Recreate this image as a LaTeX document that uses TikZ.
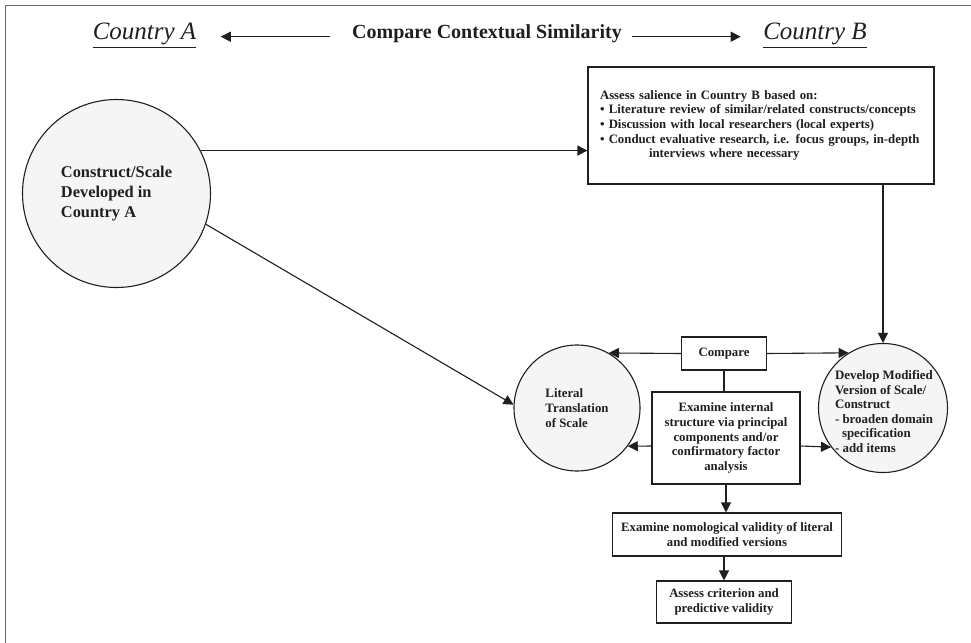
\documentclass[tikz,border=0pt]{standalone}
\usepackage{fontspec}
\setmainfont{Liberation Serif}
\usepackage{tikz}
\usetikzlibrary{arrows.meta}

\begin{document}
\begin{tikzpicture}[x=1pt,y=-1pt,color=black!88,line width=1.1pt,
     >={Triangle[length=10pt,width=10pt]},
     bx/.style={draw,fill=white,inner sep=0pt,align=center,
                font=\fontsize{12.8}{14.7}\selectfont\bfseries},
     cir/.style={circle,draw,fill=black!4,inner sep=0pt,align=left,
                font=\fontsize{12.8}{14.8}\selectfont\bfseries},
     ctry/.style={inner sep=0pt,anchor=base,font=\fontsize{25}{28}\selectfont\itshape},
     hd/.style={inner sep=0pt,anchor=base,font=\fontsize{20}{24}\selectfont\bfseries}]
     \useasboundingbox (0,0) rectangle (971,642);
     \draw[black!60,line width=0.8pt] (5,670) -- (5,5) -- (990,5);

     % heading row
     \node[ctry] at (144.5,40) (cnA) {\underline{Country A}};
     \node[ctry] at (815,40) (cnB) {\underline{Country B}};
     \node[hd] at (487,39) (ttl) {Compare Contextual Similarity};
     \draw[->,shorten <=22pt,shorten >=24pt] (ttl.mid west) -- (ttl.mid west -| cnA.east);
     \draw[->,shorten <=10pt,shorten >=22pt] (ttl.mid east) -- (ttl.mid east -| cnB.west);

     \node[cir,minimum size=188pt,font=\fontsize{16.4}{19.8}\selectfont\bfseries]
          at (116.5,193.5) (ca) {Construct/Scale\\Developed in\\Country A};
     \node[bx,minimum width=346pt,minimum height=117pt,text width=322pt,
           inner xsep=12pt,align=left] at (761,125.5) (sal)
          {Assess salience in Country B based on:\\
           • Literature review of similar/related constructs/concepts\\
           • Discussion with local researchers (local experts)\\
           • Conduct evaluative research, i.e. focus groups, in-depth\\
           \hspace*{49pt}interviews where necessary};
     \node[cir,minimum size=126pt] at (577,408) (lit) {Literal\\Translation\\of Scale};
     \node[cir,minimum size=129pt] at (883,408) (dev) {};
     \node[align=left,inner sep=0pt,font=\fontsize{12.9}{14.6}\selectfont\bfseries]
          at (884,411.5) (devtxt) {Develop Modified\\Version of Scale/\\Construct\\- broaden domain\\
                              \hspace*{7pt}specification\\- add items};
     \node[bx,minimum width=85pt,minimum height=33pt] at (724,353.5) (cmp) {Compare};
     \node[bx,minimum width=148pt,minimum height=92pt] at (726,438) (exa)
          {Examine internal\\structure via principal\\components and/or\\confirmatory factor\\analysis};
     \node[bx,minimum width=229pt,minimum height=43pt] at (727,534.5) (nom)
          {Examine nomological validity of literal\\and modified versions};
     \node[bx,minimum width=135pt,minimum height=42pt] at (724,602) (ass)
          {Assess criterion and\\predictive validity};

     \draw[->] (ca.27.6) -- (ca.27.6 -| sal.west);
     \draw[->] (ca.-19) -- (lit.177.4);
     \draw[->] (dev.north |- sal.south) -- (dev.north);
     \draw[->] (cmp.west) -- (lit.60);
     \draw[->] (cmp.east) -- (dev.122.3);
     \draw (cmp.south) -- (cmp.south |- exa.north);
     \draw[->] ([yshift=-8pt]exa.west) -- (lit.-37.1);
     \draw[->] ([yshift=-8pt]exa.east) -- (dev.-143.9);
     \draw[->] (exa.south) -- (exa.south |- nom.north);
     \draw[->] (ass.north |- nom.south) -- (ass.north);
\end{tikzpicture}
\end{document}
